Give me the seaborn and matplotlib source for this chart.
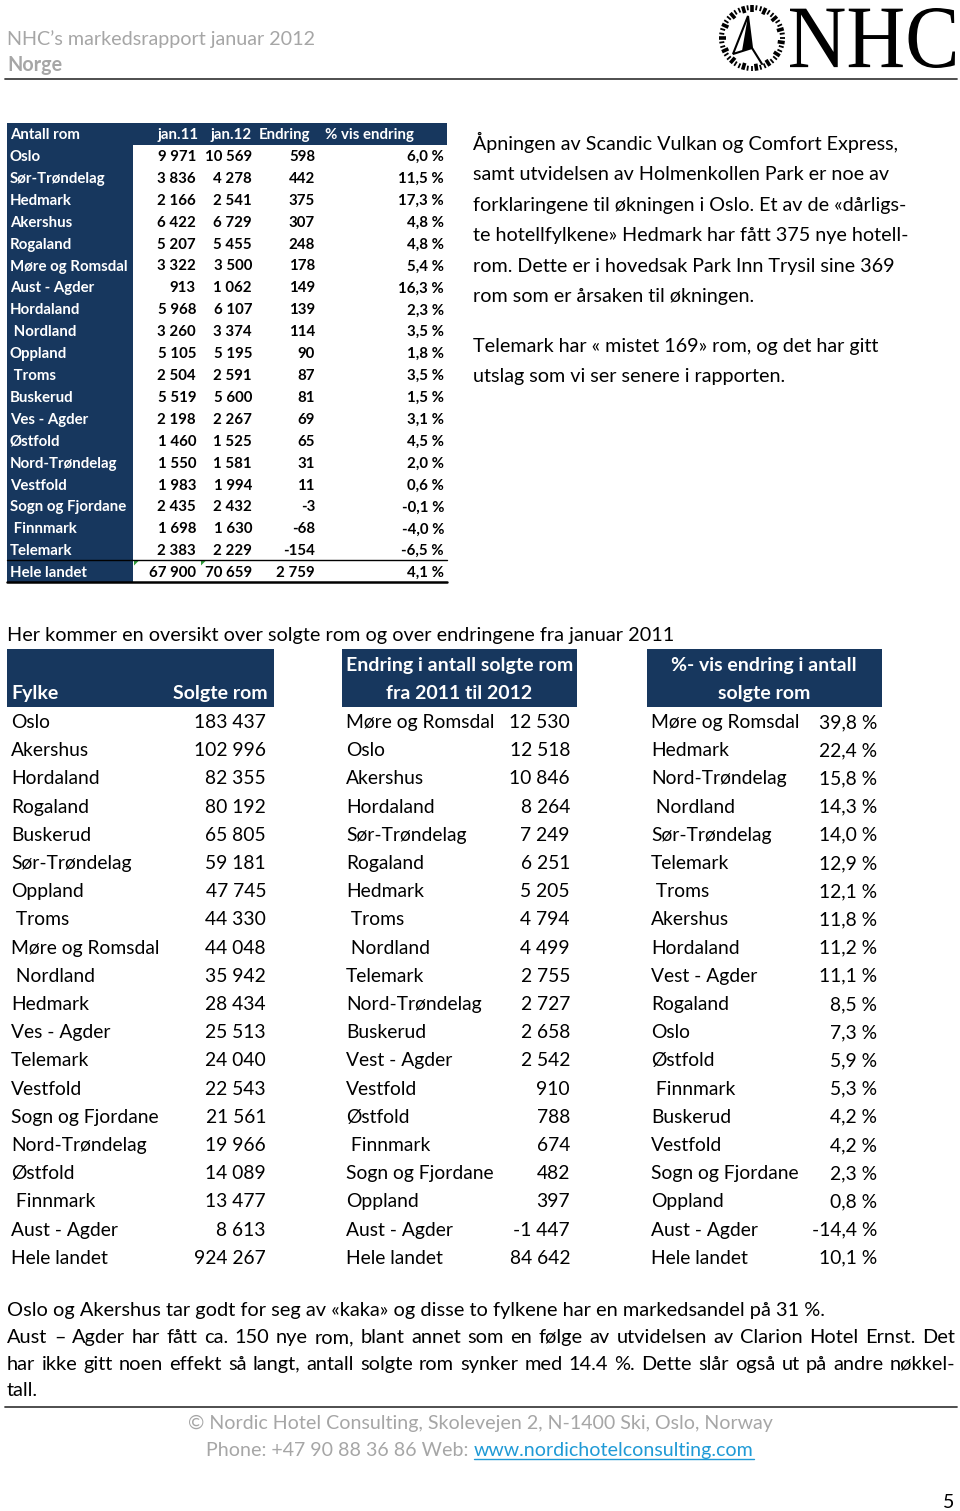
import matplotlib
matplotlib.use("Agg")
import matplotlib.pyplot as plt
import seaborn as sns
import numpy as np
from matplotlib.patches import Rectangle, Polygon, PathPatch
from matplotlib.textpath import TextPath
from matplotlib.font_manager import FontProperties
from matplotlib.transforms import Affine2D

# ---------------- data ----------------
top_counties = ["Oslo", "Sør-Trøndelag", "Hedmark", "Akershus", "Rogaland", "Møre og Romsdal",
                "Aust - Agder", "Hordaland", " Nordland", "Oppland", " Troms", "Buskerud",
                "Ves - Agder", "Østfold", "Nord-Trøndelag", "Vestfold", "Sogn og Fjordane",
                " Finnmark", "Telemark", "Hele landet"]
rooms_jan11 = [9971, 3836, 2166, 6422, 5207, 3322, 913, 5968, 3260, 5105, 2504, 5519, 2198,
               1460, 1550, 1983, 2435, 1698, 2383, 67900]
rooms_jan12 = [10569, 4278, 2541, 6729, 5455, 3500, 1062, 6107, 3374, 5195, 2591, 5600, 2267,
               1525, 1581, 1994, 2432, 1630, 2229, 70659]
rooms_change = [598, 442, 375, 307, 248, 178, 149, 139, 114, 90, 87, 81, 69, 65, 31, 11, -3,
                -68, -154, 2759]
rooms_pct = [6.0, 11.5, 17.3, 4.8, 4.8, 5.4, 16.3, 2.3, 3.5, 1.8, 3.5, 1.5, 3.1, 4.5, 2.0, 0.6,
             -0.1, -4.0, -6.5, 4.1]
top_headers = ["Antall rom", "jan.11", "jan.12", "Endring", "% vis endring"]

sold_counties = ["Oslo", "Akershus", "Hordaland", "Rogaland", "Buskerud", "Sør-Trøndelag",
                 "Oppland", " Troms", "Møre og Romsdal", " Nordland", "Hedmark", "Ves - Agder",
                 "Telemark", "Vestfold", "Sogn og Fjordane", "Nord-Trøndelag", "Østfold",
                 " Finnmark", "Aust - Agder", "Hele landet"]
sold_rooms = [183437, 102996, 82355, 80192, 65805, 59181, 47745, 44330, 44048, 35942, 28434,
              25513, 24040, 22543, 21561, 19966, 14089, 13477, 8613, 924267]

chg_counties = ["Møre og Romsdal", "Oslo", "Akershus", "Hordaland", "Sør-Trøndelag", "Rogaland",
                "Hedmark", " Troms", " Nordland", "Telemark", "Nord-Trøndelag", "Buskerud",
                "Vest - Agder", "Vestfold", "Østfold", " Finnmark", "Sogn og Fjordane",
                "Oppland", "Aust - Agder", "Hele landet"]
chg_rooms = [12530, 12518, 10846, 8264, 7249, 6251, 5205, 4794, 4499, 2755, 2727, 2658, 2542,
             910, 788, 674, 482, 397, -1447, 84642]

pct_counties = ["Møre og Romsdal", "Hedmark", "Nord-Trøndelag", " Nordland", "Sør-Trøndelag",
                "Telemark", " Troms", "Akershus", "Hordaland", "Vest - Agder", "Rogaland", "Oslo",
                "Østfold", " Finnmark", "Buskerud", "Vestfold", "Sogn og Fjordane", "Oppland",
                "Aust - Agder", "Hele landet"]
pct_change = [39.8, 22.4, 15.8, 14.3, 14.0, 12.9, 12.1, 11.8, 11.2, 11.1, 8.5, 7.3, 5.9, 5.3,
              4.2, 4.2, 2.3, 0.8, -14.4, 10.1]

right_para = ["Åpningen av Scandic Vulkan og Comfort Express,",
              "samt utvidelsen av Holmenkollen Park er noe av",
              "forklaringene til økningen i Oslo. Et av de «dårligs-",
              "te hotellfylkene» Hedmark har fått 375 nye hotell-",
              "rom. Dette er i hovedsak Park Inn Trysil sine 369",
              "rom som er årsaken til økningen."]
right_para2 = ["Telemark har « mistet 169» rom, og det har gitt",
               "utslag som vi ser senere i rapporten."]
caption = "Her kommer en oversikt over solgte rom og over endringene fra januar 2011"
bottom_para = ["Oslo og Akershus tar godt for seg av «kaka» og disse to fylkene har en markedsandel på 31 %.",
               "Aust – Agder har fått ca. 150 nye rom, blant annet som en følge av utvidelsen av Clarion Hotel Ernst. Det",
               "har ikke gitt noen effekt så langt, antall solgte rom synker med 14.4 %. Dette slår også ut på andre nøkkel-",
               "tall."]
footer1 = "© Nordic Hotel Consulting, Skolevejen 2, N-1400 Ski, Oslo, Norway"
footer2_pre = "Phone: +47 90 88 36 86 Web:"
footer2_link = "www.nordichotelconsulting.com"

# ---------------- style ----------------
sns.set_theme(style="white")
plt.rcParams['font.family'] = ['Lato', 'DejaVu Sans']
NAVY = "#17375e"
GRAY = "#a6a6a6"

W, H = 960, 1511
fig = plt.figure(figsize=(W / 100, H / 100), dpi=100)
ax = fig.add_axes([0, 0, 1, 1])
ax.set_xlim(0, W)
ax.set_ylim(H, 0)
ax.axis('off')
renderer = fig.canvas.get_renderer()


def text_width(s, size, weight='normal'):
    t = ax.text(0, 0, s, fontsize=size, fontweight=weight)
    w = t.get_window_extent(renderer).width
    t.remove()
    return w


def fit(s, target, weight='normal'):
    return 20 * target / text_width(s, 20, weight)


def T(x, y, s, size, color='black', weight='normal', ha='left'):
    ax.text(x, y, s, fontsize=size, color=color, fontweight=weight, ha=ha, va='baseline')


def fmt_int(v):
    return f"{v:,}".replace(",", " ")


def fmt_pct(v):
    return f"{v:.1f}".replace(".", ",") + " %"


# ---------------- header ----------------
hs = fit("NHC’s markedsrapport januar 2012", 309)
T(7, 45, "NHC’s markedsrapport januar 2012", hs, GRAY)
T(7, 71, "Norge", hs, GRAY, weight='bold')
ax.plot([5, 957], [79, 79], color="#404040", lw=1.3)

# NHC logo
fp = FontProperties(family='Liberation Serif')
tp = TextPath((0, 0), "NHC", size=100, prop=fp)
bb = tp.get_extents()
lx0, lx1, ly0, ly1 = 790, 955, 8, 68
sx = (lx1 - lx0) / bb.width
sy = (ly1 - ly0) / bb.height
tr = Affine2D().translate(-bb.x0, -bb.y0).scale(sx, -sy).translate(lx0, ly1) + ax.transData
ax.add_patch(PathPatch(tp, transform=tr, facecolor='black', lw=0))
cx, cy = 752, 38
for i, a in enumerate(np.linspace(0, 2 * np.pi, 44, endpoint=False)):
    r0, r1 = (26, 33) if i % 3 == 0 else (28, 33)
    ax.plot([cx + r0 * np.sin(a), cx + r1 * np.sin(a)],
            [cy - r0 * np.cos(a), cy - r1 * np.cos(a)],
            color='black', lw=2.6 if i % 3 == 0 else 1.3, solid_capstyle='butt')
ax.add_patch(Polygon([(748, 16), (733, 54), (752, 48)], closed=True, facecolor='white',
                     edgecolor='black', lw=1.5))
ax.add_patch(Polygon([(748, 16), (742, 51), (752, 48)], closed=True, facecolor='black', lw=0))
ax.plot([752, 762], [48, 64], color='black', lw=1.5)

# ---------------- top table ----------------
ax.add_patch(Rectangle((7, 123), 440, 22, facecolor=NAVY, lw=0))
ax.add_patch(Rectangle((7, 145), 126, 437, facecolor=NAVY, lw=0))
ts = fit("Møre og Romsdal", 117, 'bold')
T(10, 139, top_headers[0], ts, 'white', 'bold')
T(199, 139, top_headers[1], ts, 'white', 'bold', ha='right')
T(211, 139, top_headers[2], ts, 'white', 'bold')
T(259, 139, top_headers[3], ts, 'white', 'bold')
T(325, 139, top_headers[4], ts, 'white', 'bold')
for i in range(len(top_counties)):
    yb = 161 + 21.9 * i
    T(10, yb, top_counties[i], ts, 'white', 'bold')
    T(196, yb, fmt_int(rooms_jan11[i]), ts, 'black', 'bold', ha='right')
    T(252, yb, fmt_int(rooms_jan12[i]), ts, 'black', 'bold', ha='right')
    T(315, yb, fmt_int(rooms_change[i]), ts, 'black', 'bold', ha='right')
    T(444, yb, fmt_pct(rooms_pct[i]), ts, 'black', 'bold', ha='right')
ax.plot([7, 447], [560, 560], color='black', lw=1.0)
ax.plot([7, 447], [582, 582], color='black', lw=1.8)
for gx in (134, 201):
    ax.add_patch(Polygon([(gx, 560.5), (gx + 5, 560.5), (gx, 565.5)], closed=True,
                         facecolor='#2f9a3a', lw=0))

# ---------------- right paragraph ----------------
ps = fit(right_para[0], 426)
for i, line in enumerate(right_para):
    T(473, 150 + 30.4 * i, line, ps)
for i, line in enumerate(right_para2):
    T(473, 352 + 30.4 * i, line, ps)

# ---------------- caption ----------------
cs = fit(caption, 670)
T(7, 641, caption, cs)

# ---------------- bottom tables ----------------
ax.add_patch(Rectangle((7, 649), 267, 58, facecolor=NAVY, lw=0))
ax.add_patch(Rectangle((342, 649), 235, 58, facecolor=NAVY, lw=0))
ax.add_patch(Rectangle((647, 649), 235, 58, facecolor=NAVY, lw=0))
bh = fit("Endring i antall solgte rom", 225, 'bold')
T(11, 699, "Fylke", bh, 'white', 'bold')
T(268, 699, "Solgte rom", bh, 'white', 'bold', ha='right')
T(459.5, 671, "Endring i antall solgte rom", bh, 'white', 'bold', ha='center')
T(459.5, 699, "fra 2011 til 2012", bh, 'white', 'bold', ha='center')
T(764, 671, "%- vis endring i antall", bh, 'white', 'bold', ha='center')
T(764, 699, "solgte rom", bh, 'white', 'bold', ha='center')

bs = fit("Møre og Romsdal", 149)
for i in range(len(sold_counties)):
    yb = 728 + 28.2 * i
    T(11, yb, sold_counties[i], bs)
    T(266, yb, fmt_int(sold_rooms[i]), bs, ha='right')
    T(346, yb, chg_counties[i], bs)
    T(570, yb, fmt_int(chg_rooms[i]), bs, ha='right')
    T(651, yb, pct_counties[i], bs)
    T(877, yb, fmt_pct(pct_change[i]), bs, ha='right')

# ---------------- bottom paragraph ----------------
qs = fit(bottom_para[0], 819)


def justify(s, x0, x1, y, size):
    words = s.split(' ')
    ws = [text_width(w, size) for w in words]
    gap = (x1 - x0 - sum(ws)) / (len(words) - 1)
    x = x0
    for w, wd in zip(words, ws):
        T(x, y, w, size)
        x += wd + gap


T(7, 1316, bottom_para[0], qs)
justify(bottom_para[1], 7, 955, 1343, qs)
justify(bottom_para[2], 7, 955, 1370, qs)
T(7, 1396, bottom_para[3], qs)
ax.plot([5, 957], [1407, 1407], color="#404040", lw=1.3)

# ---------------- footer ----------------
fs = fit(footer1, 585)
T(480.5, 1429, footer1, fs, GRAY, ha='center')
w_pre = text_width(footer2_pre, fs)
w_sp = text_width("a a", fs) - text_width("aa", fs)
w_link = text_width(footer2_link, fs)
total = w_pre + w_sp + w_link
x_start = 480 - total / 2
T(x_start, 1456, footer2_pre, fs, GRAY)
lx = x_start + w_pre + w_sp
T(lx, 1456, footer2_link, fs, "#1f9ad6")
ax.plot([lx, lx + w_link], [1459, 1459], color="#1f9ad6", lw=1.0)
T(954, 1508, "5", fs, 'black', ha='right')

fig.savefig("out.png", dpi=100)
